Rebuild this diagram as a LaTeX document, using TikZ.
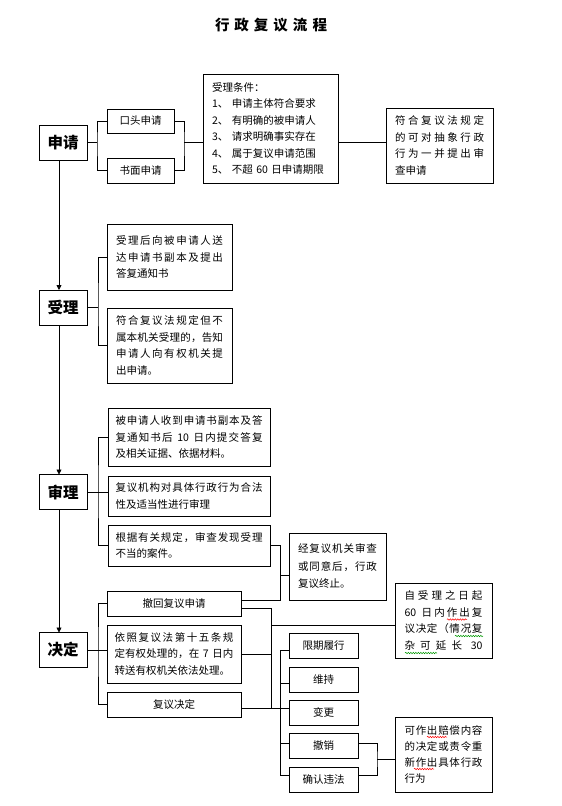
\documentclass[tikz,border=0pt]{standalone}
\usepackage{fontspec}
\setmainfont{Noto Sans CJK SC}
\usetikzlibrary{arrows.meta,calc,decorations.pathmorphing}
\makeatletter
\let\spr@end\relax
\def\spr@endm{\spr@end}
\def\spr#1{\spr@a#1\spr@end}
\def\spr@a#1{\def\spr@t{#1}\ifx\spr@t\spr@endm\else#1\expandafter\spr@b\fi}
\def\spr@b#1{\def\spr@t{#1}\ifx\spr@t\spr@endm\else\hfil#1\expandafter\spr@b\fi}
\makeatother
\newcommand\jl[1]{\makebox[\hsize][s]{\spr{#1}}}
\begin{document}
\begin{tikzpicture}[x=1bp,y=-1bp,line width=0.75bp,
  box/.style={draw, line width=0.75bp, font=\fontsize{10.5bp}{16.5bp}\selectfont, inner ysep=0pt, outer sep=0pt},
  para/.style 2 args={box, text width=#1, inner xsep=#2, align=left},
  sbox/.style={box, minimum width=#1, minimum height=25bp, inner sep=0pt, align=center},
  stage/.style={draw, line width=0.75bp, minimum width=48bp, minimum height=35bp, inner sep=0pt, outer sep=0pt, font=\fontsize{15.5bp}{18bp}\selectfont\bfseries},
  arr/.style={-{Triangle[width=5bp,length=5bp]}},
  wavy/.style={line width=0.5bp, decorate, decoration={snake, amplitude=0.7bp, segment length=2.5bp}}
]
\fill[white] (0,0) rectangle (562,806);
\useasboundingbox (0,0) rectangle (562,806);

% title
\node[font=\fontsize{14.5bp}{16bp}\selectfont\bfseries] (title) at (271,25) {\makebox[112bp][s]{\spr{行政复议流程}}};

% stages
\node[stage] (s1) at (63,142.5) {申请};
\node[stage] (s2) at (63,307.5) {受理};
\node[stage] (s3) at (63,492) {审理};
\node[stage] (s4) at (63,650) {决定};
\draw[arr] ($(s1.south)+(-4,0)$) -- ($(s2.north)+(-4,0)$);
\draw[arr] ($(s2.south)+(-4,0)$) -- ($(s3.north)+(-4,0)$);
\draw[arr] ($(s3.south)+(-4,0)$) -- ($(s4.north)+(-4,0)$);

% 申请
\node[sbox=67bp, minimum height=24bp] (oral) at (140.5,121) {口头申请};
\node[sbox=67bp] (written) at (140.5,170.5) {书面申请};
\node[para={117bp}{9bp}, minimum height=109bp] (cond) at (270.5,128.5)
  {受理条件：\\1、 申请主体符合要求\\2、 有明确的被申请人\\3、 请求明确事实存在\\4、 属于复议申请范围\\5、 不超 60 日申请期限};
\node[para={89bp}{9bp}, minimum height=75bp] (rbox) at (439.5,145.5)
  {\jl{符合复议法规定}\\\jl{的可对抽象行政}\\\jl{行为一并提出审}\\查申请};
\coordinate (b1) at ($(s1.east)+(10,0)$);
\draw (s1.east) -- (b1);
\draw (oral.west) -| (b1) |- (written.west);
\coordinate (b2) at (184,142);
\draw (oral.east) -| (b2) |- (written.east);
\draw (b2) -- (b2 -| cond.west);
\draw (cond.east |- b2) -- (b2 -| rbox.west);

% 受理
\node[para={107bp}{9bp}, minimum height=66bp] (a1) at (169.5,257)
  {\jl{受理后向被申请人送}\\\jl{达申请书副本及提出}\\答复通知书};
\node[para={107bp}{9bp}, minimum height=75bp] (a2) at (169.5,345.5)
  {\jl{符合复议法规定但不}\\\jl{属本机关受理的，告知}\\\jl{申请人向有权机关提}\\出申请。};
\coordinate (b3) at ($(s2.east)+(11,0)$);
\draw (s2.east) -- (b3);
\draw (a1.west) -| (b3) |- (a2.west);

% 审理
\node[para={147bp}{7.5bp}, minimum height=58bp] (r1) at (189,437)
  {\jl{被申请人收到申请书副本及答}\\\jl{复通知书后{ 10 }日内提交答复}\\及相关证据、依据材料。};
\node[para={147bp}{7.5bp}, minimum height=40bp] (r2) at (189,496)
  {\jl{复议机构对具体行政行为合法}\\性及适当性进行审理};
\node[para={147bp}{7.5bp}, minimum height=41bp] (r3) at (189,545.5)
  {\jl{根据有关规定，审查发现受理}\\不当的案件。};
\coordinate (b4) at ($(s3.east)+(11,0)$);
\draw (s3.east) -- (b4);
\draw (r1.west) -| (b4) |- (r3.west);
\draw (b4) -- (b4 -| r2.west);

% 决定
\node[sbox=134bp] (d1) at (174,603.5) {撤回复议申请};
\node[para={119bp}{7.5bp}, minimum height=58bp] (d2) at (174,654)
  {\jl{依照复议法第十五条规}\\\jl{定有权处理的，在{ 7 }日内}\\转送有权机关依法处理。};
\node[sbox=134bp] (d3) at (174,704.5) {复议决定};
\coordinate (b5) at ($(s4.east)+(11,0)$);
\draw (s4.east) -- (b5);
\draw (d1.west) -| (b5) |- (d3.west);
\draw (b5) -- (b5 -| d2.west);

% 终止
\node[para={79bp}{9bp}, minimum height=67bp, font=\fontsize{10.5bp}{17.5bp}\selectfont] (stop) at (337.5,566.5)
  {\jl{经复议机关审查}\\\jl{或同意后，行政}\\复议终止。};
\coordinate (c1) at (280,600);
\coordinate (j1) at (280,575);
\draw (r3.east) -| (c1) -- (c1 -| d1.east);
\draw (j1) -- (j1 -| stop.west);

% 期限
\node[para={78bp}{9.5bp}, minimum height=75bp] (dead) at (443.5,620.5)
  {\jl{自受理之日起}\\\jl{{60 }日内作出复}\\\jl{议决定（情况复}\\\jl{杂可延长{ 30}}};
\coordinate (c2) at (271,608);
\coordinate (c3) at (271,708);
\coordinate (c4) at (271,625);
\draw (c2 -| d1.east) -- (c2) -- (c3);
\draw (d2.east) -- (d2.east -| c2);
\draw (c4) -- (c4 -| dead.west);

% 结果
\node[sbox=69bp] (o1) at (323.5,645.5) {限期履行};
\node[sbox=69bp] (o2) at (323.5,679.5) {维持};
\node[sbox=69bp] (o3) at (323.5,712.5) {变更};
\node[sbox=69bp] (o4) at (323.5,745.5) {撤销};
\node[sbox=69bp] (o5) at (323.5,779.5) {确认违法};
\coordinate (t1) at (280,650);
\coordinate (t2) at (280,683);
\coordinate (t3) at (280,708);
\coordinate (t4) at (280,743);
\coordinate (t5) at (280,775);
\draw (t1) -- (t5);
\draw (c3 -| d3.east) -- (t3);
\foreach \i in {1,...,5} { \draw (t\i) -- (t\i -| o\i.west); }

\node[para={78bp}{9.5bp}, minimum height=75bp, font=\fontsize{10.5bp}{16bp}\selectfont] (comp) at (443.5,754.5)
  {\jl{可作出赔偿内容}\\\jl{的决定或责令重}\\\jl{新作出具体行政}\\行为};
\coordinate (b6) at (377,759);
\draw (t4 -| o4.east) -| (b6) |- (t5 -| o5.east);
\draw (b6) -- (b6 -| comp.west);

% spell-check marks
\draw[wavy,red] (447,619.5) -- (467,619.5);
\draw[wavy,green!60!black] (455,636) -- (483,636);
\draw[wavy,green!60!black] (405,653) -- (437,653);
\draw[wavy,red] (427,737) -- (447,737);
\draw[wavy,red] (414,769) -- (434,769);
\end{tikzpicture}
\end{document}
